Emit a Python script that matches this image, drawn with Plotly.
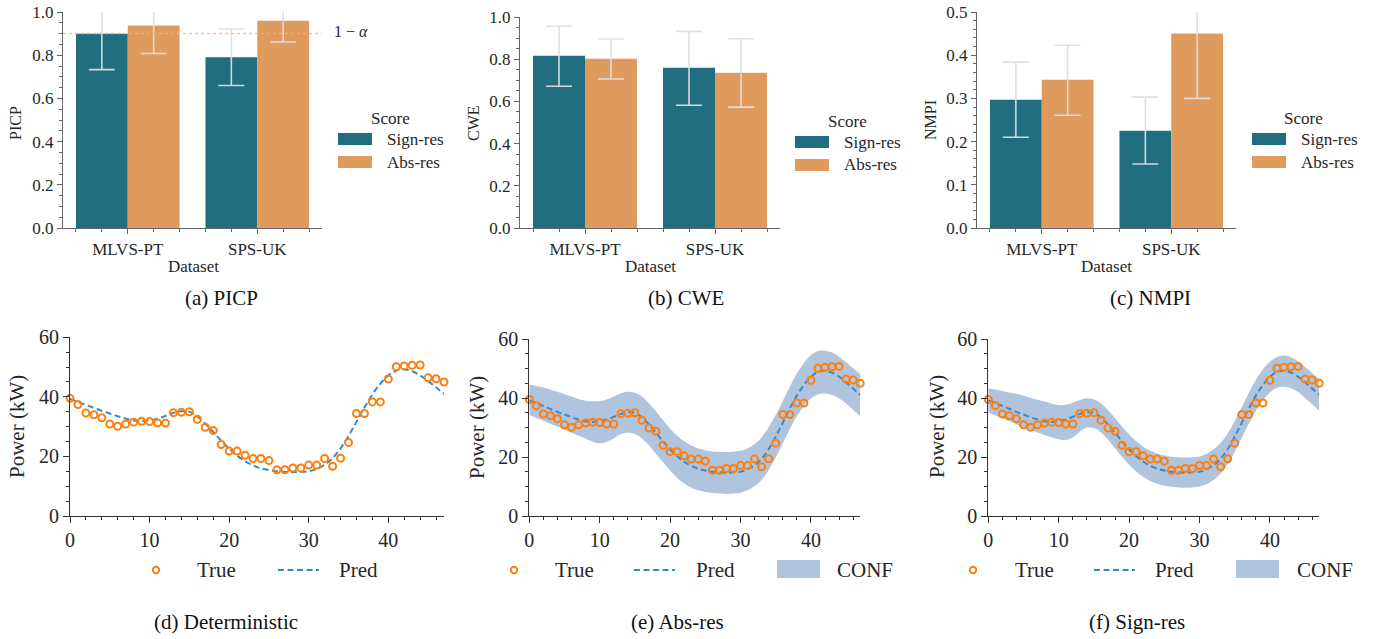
import plotly.graph_objects as go

W, H = 1374, 639
def px(x): return x / W
def py(y): return 1 - y / H

# ---------------- data ----------------
datasets = ["MLVS-PT", "SPS-UK"]
scores = ["Sign-res", "Abs-res"]

picp_sign = [0.899, 0.791]
picp_sign_lo = [0.733, 0.660]
picp_sign_hi = [1.065, 0.921]
picp_abs = [0.937, 0.960]
picp_abs_lo = [0.808, 0.861]
picp_abs_hi = [1.066, 1.059]

cwe_sign = [0.816, 0.759]
cwe_sign_lo = [0.672, 0.582]
cwe_sign_hi = [0.956, 0.932]
cwe_abs = [0.802, 0.736]
cwe_abs_lo = [0.706, 0.573]
cwe_abs_hi = [0.896, 0.897]

nmpi_sign = [0.297, 0.225]
nmpi_sign_lo = [0.210, 0.148]
nmpi_sign_hi = [0.384, 0.303]
nmpi_abs = [0.343, 0.450]
nmpi_abs_lo = [0.261, 0.300]
nmpi_abs_hi = [0.423, 0.600]

alpha_level = 0.9

hours = list(range(48))
true_power = [39.5, 37.4, 34.6, 34.0, 33.0, 30.9, 30.1, 30.9, 31.5, 31.8,
              31.7, 31.2, 31.2, 34.7, 34.8, 35.0, 32.5, 29.8, 28.7, 24.0,
              21.8, 21.8, 20.4, 19.3, 19.3, 18.6, 15.5, 15.5, 16.1, 16.1,
              17.1, 17.1, 19.3, 16.7, 19.4, 24.7, 34.4, 34.4, 38.3, 38.3,
              46.0, 50.1, 50.4, 50.6, 50.7, 46.4, 46.1, 45.0]
pred_power = [39.3, 38.3, 37.3, 36.3, 35.3, 34.4, 33.5, 32.7, 32.1, 31.9,
              32.1, 32.7, 33.6, 34.6, 35.2, 35.0, 33.4, 31.0, 28.2, 25.3,
              22.6, 20.3, 18.4, 17.0, 16.0, 15.4, 15.0, 14.8, 14.7, 14.8,
              15.0, 15.8, 17.2, 19.4, 22.7, 26.9, 31.6, 36.4, 40.8, 44.4,
              47.2, 48.8, 49.2, 48.6, 47.2, 45.3, 43.2, 41.0]

abs_upper = [44.6, 44.1, 43.6, 42.9, 42.1, 41.3, 40.5, 39.7, 39.1, 38.9,
             39.0, 39.5, 40.5, 41.6, 42.1, 41.8, 40.5, 38.2, 35.4, 32.5,
             29.6, 27.2, 25.3, 23.9, 22.9, 22.3, 21.9, 21.7, 21.7, 21.8,
             22.1, 22.9, 24.4, 26.7, 30.0, 34.2, 39.0, 43.8, 48.3, 51.9,
             54.5, 55.9, 56.0, 55.4, 54.0, 52.1, 50.1, 48.1]
abs_lower = [34.2, 33.2, 32.3, 31.3, 30.3, 29.2, 28.2, 27.2, 26.3, 25.2,
             24.6, 25.2, 26.3, 27.8, 28.2, 27.8, 26.3, 24.0, 21.0, 18.2,
             15.4, 12.9, 11.0, 9.6, 8.7, 8.1, 7.8, 7.6, 7.5, 7.6,
             7.9, 8.7, 10.1, 12.3, 15.6, 19.8, 24.6, 29.4, 33.8, 37.3,
             39.8, 41.2, 41.5, 41.0, 39.8, 38.1, 36.0, 33.8]

sign_upper = [43.3, 42.9, 42.4, 41.9, 41.4, 40.8, 40.1, 39.4, 38.8, 38.1,
              37.6, 37.7, 38.4, 39.3, 39.9, 39.5, 38.2, 35.9, 33.1, 30.3,
              27.6, 25.3, 23.5, 22.1, 21.1, 20.5, 20.1, 19.9, 19.8, 19.9,
              20.2, 21.0, 22.6, 24.8, 28.0, 32.2, 36.9, 41.7, 46.2, 49.7,
              52.3, 53.9, 54.4, 53.8, 52.4, 50.5, 48.4, 46.4]
sign_lower = [35.0, 34.1, 33.1, 32.1, 31.1, 30.1, 29.2, 28.3, 27.5, 26.7,
              26.0, 25.8, 26.7, 28.6, 30.0, 29.8, 28.3, 25.9, 23.0, 20.1,
              17.4, 15.1, 13.3, 11.9, 10.9, 10.3, 9.9, 9.7, 9.6, 9.7,
              10.0, 10.8, 12.2, 14.4, 17.6, 21.8, 26.5, 31.3, 35.6, 39.2,
              41.9, 43.5, 43.8, 43.3, 42.0, 40.0, 37.9, 35.6]

# ---------------- styling ----------------
TEAL = "#216e80"
ORANGE = "#df9b5e"
ERR = "rgba(222,222,222,0.95)"
PT_ORANGE = "#ff7f0e"
PRED_BLUE = "#3b89c3"
BAND = "rgb(176,196,222)"
FONT = "Liberation Serif"
TXT = "#262626"

fig = go.Figure()

top_cols = [
    dict(x0=63, x1=322, ytop=12, yb=228, rng=[0, 1.0], dt=0.2, mdt=0.05, fmt=".1f",
         sign=(picp_sign, picp_sign_lo, picp_sign_hi), absr=(picp_abs, picp_abs_lo, picp_abs_hi)),
    dict(x0=520, x1=780, ytop=17, yb=228, rng=[0, 1.0], dt=0.2, mdt=0.05, fmt=".1f",
         sign=(cwe_sign, cwe_sign_lo, cwe_sign_hi), absr=(cwe_abs, cwe_abs_lo, cwe_abs_hi)),
    dict(x0=977, x1=1236, ytop=12, yb=228, rng=[0, 0.5], dt=0.1, mdt=0.02, fmt=".1f",
         sign=(nmpi_sign, nmpi_sign_lo, nmpi_sign_hi), absr=(nmpi_abs, nmpi_abs_lo, nmpi_abs_hi)),
]

layout_axes = {}
for i, c in enumerate(top_cols):
    n = i + 1
    xa = "x" if n == 1 else f"x{n}"
    ya = "y" if n == 1 else f"y{n}"
    for name, (vals, lo, hi), col, off in [("Sign-res", c["sign"], TEAL, -0.4),
                                           ("Abs-res", c["absr"], ORANGE, 0.0)]:
        fig.add_trace(go.Bar(
            x=[0, 1], y=vals, width=0.4, offset=off,
            marker=dict(color=col, line=dict(width=0)),
            error_y=dict(type="data", symmetric=False,
                         array=[h - v for h, v in zip(hi, vals)],
                         arrayminus=[v - l for v, l in zip(vals, lo)],
                         color=ERR, thickness=1.6, width=13),
            xaxis=xa, yaxis=ya, showlegend=False, name=name))
    layout_axes["xaxis" if n == 1 else f"xaxis{n}"] = dict(
        domain=[px(c["x0"]), px(c["x1"])], anchor=ya, range=[-0.5, 1.5], automargin=False,
        tickvals=[0, 1], ticktext=datasets, ticks="outside", ticklen=5, tickwidth=1,
        tickcolor="#666", showline=True, linecolor="#666", linewidth=1.2,
        showgrid=False, zeroline=False,
        tickfont=dict(family=FONT, size=17, color=TXT),
        minor=dict(tick0=0, dtick=0.2, ticks="outside", ticklen=3, tickcolor="#666"))
    layout_axes["yaxis" if n == 1 else f"yaxis{n}"] = dict(
        domain=[py(c["yb"]), py(c["ytop"])], anchor=xa, range=c["rng"], automargin=False,
        tick0=0, dtick=c["dt"], tickformat=c["fmt"], ticks="outside", ticklen=5,
        tickcolor="#666", showline=True, linecolor="#666", linewidth=1.2,
        showgrid=False, zeroline=False,
        tickfont=dict(family=FONT, size=17, color=TXT),
        minor=dict(tick0=0, dtick=c["mdt"], ticks="outside", ticklen=3, tickcolor="#666"))

# bottom row
bot_cols = [
    dict(x0=70, x1=444, ytop=337.3, yb=516, band=None),
    dict(x0=529.3, x1=860.2, ytop=339, yb=516, band=(abs_lower, abs_upper)),
    dict(x0=988.3, x1=1319.2, ytop=339, yb=516, band=(sign_lower, sign_upper)),
]
for i, c in enumerate(bot_cols):
    n = i + 4
    xa, ya = f"x{n}", f"y{n}"
    if c["band"] is not None:
        lo, up = c["band"]
        fig.add_trace(go.Scatter(x=hours, y=lo, mode="lines", line=dict(width=0, shape="spline"),
                                 xaxis=xa, yaxis=ya, showlegend=False, hoverinfo="skip"))
        fig.add_trace(go.Scatter(x=hours, y=up, mode="lines", line=dict(width=0, shape="spline"),
                                 fill="tonexty", fillcolor=BAND,
                                 xaxis=xa, yaxis=ya, showlegend=False, hoverinfo="skip"))
    fig.add_trace(go.Scatter(x=hours, y=pred_power, mode="lines",
                             line=dict(color=PRED_BLUE, width=2, dash="6px,3.5px", shape="spline"),
                             xaxis=xa, yaxis=ya, showlegend=False))
    fig.add_trace(go.Scatter(x=hours, y=true_power, mode="markers",
                             marker=dict(symbol="circle-open", size=7, color=PT_ORANGE,
                                         line=dict(width=2, color=PT_ORANGE)),
                             xaxis=xa, yaxis=ya, showlegend=False, cliponaxis=False))
    layout_axes[f"xaxis{n}"] = dict(
        domain=[px(c["x0"]), px(c["x1"])], anchor=ya, range=[0, 47], automargin=False,
        tick0=0, dtick=10, ticks="outside", ticklen=6, tickcolor="#333",
        showline=True, linecolor="#333", linewidth=1.2, showgrid=False, zeroline=False,
        tickfont=dict(family=FONT, size=20, color=TXT),
        minor=dict(tick0=0, dtick=2, ticks="outside", ticklen=3, tickcolor="#333"))
    layout_axes[f"yaxis{n}"] = dict(
        domain=[py(c["yb"]), py(c["ytop"])], anchor=xa, range=[0, 60], automargin=False,
        tick0=0, dtick=20, ticks="outside", ticklen=6, tickcolor="#333",
        showline=True, linecolor="#333", linewidth=1.2, showgrid=False, zeroline=False,
        tickfont=dict(family=FONT, size=20, color=TXT),
        minor=dict(tick0=0, dtick=5, ticks="outside", ticklen=3, tickcolor="#333"))

shapes = []
annotations = []

def text(x, y, s, size=16, xanchor="center", angle=0, color=TXT):
    annotations.append(dict(x=px(x), y=py(y), xref="paper", yref="paper", text=s,
                            showarrow=False, xanchor=xanchor, yanchor="middle",
                            textangle=angle, font=dict(family=FONT, size=size, color=color)))

# 1 - alpha line
shapes.append(dict(type="line", xref="x", yref="y", x0=-0.5, x1=1.5, y0=alpha_level, y1=alpha_level,
                   line=dict(color="rgba(255,178,105,0.8)", width=1.5, dash="dot"), layer="above"))
annotations.append(dict(x=1.5, y=alpha_level, xref="x", yref="y", text="1 − <i>α</i>", showarrow=False,
                        xanchor="left", yanchor="middle", xshift=10, yshift=2,
                        font=dict(family=FONT, size=16, color=TXT)))

# top axis titles & legends
for (ylab, ylx, yly, dsx, legx, legtitle_x, legy) in [
        ("PICP", 15, 123, 193, 338, 390, 133),
        ("CWE", 473, 123, 650, 795, 847, 136),
        ("NMPI", 930, 120, 1106, 1252, 1303, 133)]:
    text(ylx, yly, ylab, size=16, angle=-90)
    text(dsx, 266, "Dataset", size=17)
    text(legtitle_x, legy - 15, "Score", size=17)
    for k, (nm, col) in enumerate([("Sign-res", TEAL), ("Abs-res", ORANGE)]):
        y0 = legy + 23 * k
        shapes.append(dict(type="rect", xref="paper", yref="paper", x0=px(legx), x1=px(legx + 34),
                           y0=py(y0 + 12), y1=py(y0), fillcolor=col, line=dict(width=0)))
        text(legx + 47, y0 + 6, nm, size=17, xanchor="left")

# bottom axis titles & legends
for (ylx, circ_x, true_x, dash_x0, pred_x, rect_x0, conf_x) in [
        (17, 156, 195, 278, 337, None, None),
        (477, 514, 553, 634, 694, 777, 835),
        (937, 973, 1013, 1094, 1153, 1236, 1295)]:
    text(ylx, 427, "Power (kW)", size=21, angle=-90)
    ly = 570
    shapes.append(dict(type="circle", xref="paper", yref="paper",
                       x0=px(circ_x - 3.2), x1=px(circ_x + 3.2), y0=py(ly + 3.2), y1=py(ly - 3.2),
                       line=dict(color=PT_ORANGE, width=2)))
    text(true_x, ly, "True", size=21, xanchor="left")
    shapes.append(dict(type="line", xref="paper", yref="paper", x0=px(dash_x0), x1=px(dash_x0 + 41),
                       y0=py(ly), y1=py(ly), line=dict(color=PRED_BLUE, width=2, dash="6px,3.5px")))
    text(pred_x, ly, "Pred", size=21, xanchor="left")
    if rect_x0 is not None:
        shapes.append(dict(type="rect", xref="paper", yref="paper", x0=px(rect_x0), x1=px(rect_x0 + 43),
                           y0=py(578), y1=py(560), fillcolor=BAND, line=dict(width=0)))
        text(conf_x, ly, "CONF", size=21, xanchor="left")

# captions
for (cx, cy, s) in [(222, 298, "(a) PICP"), (686, 298, "(b) CWE"), (1150, 298, "(c) NMPI"),
                    (226, 622, "(d) Deterministic"), (677, 622, "(e) Abs-res"), (1137, 622, "(f) Sign-res")]:
    text(cx, cy, s, size=21, color="#111")

fig.update_layout(
    width=W, height=H, margin=dict(l=0, r=0, t=0, b=0, autoexpand=False),
    paper_bgcolor="white", plot_bgcolor="white",
    barmode="overlay", showlegend=False,
    font=dict(family=FONT, color=TXT),
    shapes=shapes, annotations=annotations,
    **layout_axes)

fig.write_html("out.html", config={"displayModeBar": False},
               post_script="document.body.style.margin='0';document.body.style.overflow='hidden';")
